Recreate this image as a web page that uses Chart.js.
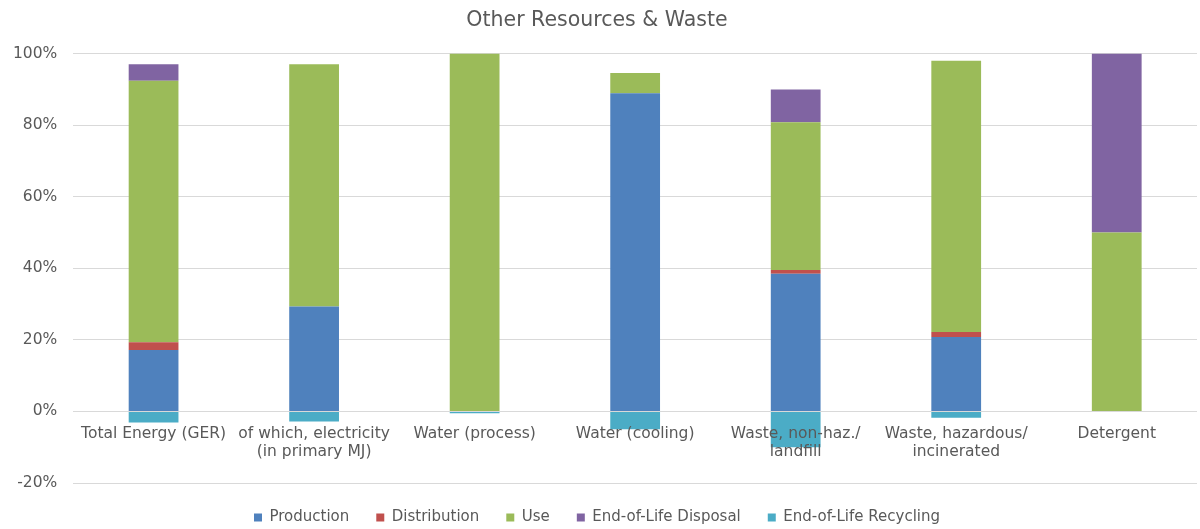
<!DOCTYPE html>
<html>
<head>
<meta charset="utf-8">
<script src="https://cdn.jsdelivr.net/npm/chart.js@4/dist/chart.umd.min.js"></script>
<style>
  html, body { margin: 0; padding: 0; background: #fff; }
  #wrap { width: 1200px; height: 529px; }
</style>
</head>
<body>
<div id="wrap"><canvas id="chart"></canvas></div>
<script>
  const categories = [
    'Total Energy (GER)',
    ['of which, electricity', '(in primary MJ)'],
    'Water (process)',
    'Water (cooling)',
    ['Waste, non-haz./', 'landfill'],
    ['Waste, hazardous/', 'incinerated'],
    'Detergent'
  ];
  const production   = [17.2, 29.3, 0, 88.9, 38.5, 20.8, 0];
  const distribution = [2.1, 0, 0, 0, 1.0, 1.4, 0];
  const use          = [73.1, 67.7, 100, 5.7, 41.3, 75.8, 50];
  const disposal     = [4.6, 0, 0, 0, 9.2, 0, 50];
  const recycling    = [-3.1, -2.8, -0.5, -5.0, -10.0, -1.8, 0];

  const grey = '#595959';
  const font = 'Verdana, "DejaVu Sans", sans-serif';

  function ds(label, data, color) {
    return {
      label: label,
      data: data,
      backgroundColor: color,
      borderWidth: 0,
      categoryPercentage: 1,
      barPercentage: 0.31
    };
  }

  new Chart(document.getElementById('chart'), {
    type: 'bar',
    data: {
      labels: categories,
      datasets: [
        ds('Production', production, '#4F81BD'),
        ds('Distribution', distribution, '#C0504D'),
        ds('Use', use, '#9BBB59'),
        ds('End-of-Life Disposal', disposal, '#8064A2'),
        ds('End-of-Life Recycling', recycling, '#4BACC6')
      ]
    },
    options: {
      responsive: true,
      maintainAspectRatio: false,
      animation: false,
      layout: { padding: { left: -3, right: 3, top: 0, bottom: -6 } },
      plugins: {
        title: {
          display: true,
          text: 'Other Resources & Waste',
          color: grey,
          font: { family: font, size: 20.5, weight: 'normal' },
          padding: { top: 8, bottom: 21 }
        },
        legend: {
          position: 'bottom',
          labels: {
            color: grey,
            font: { family: font, size: 15 },
            boxWidth: 8,
            boxHeight: 8,
            padding: 27
          }
        },
        tooltip: { enabled: false }
      },
      scales: {
        x: {
          stacked: true,
          position: { y: 0 },
          grid: { display: false },
          border: { display: false },
          ticks: {
            z: 1,
            color: grey,
            font: { family: font, size: 15.5 },
            maxRotation: 0,
            autoSkip: false,
            padding: 5
          }
        },
        y: {
          stacked: true,
          min: -20,
          max: 100,
          grid: { color: '#d9d9d9', drawTicks: false },
          border: { display: false },
          ticks: {
            stepSize: 20,
            color: grey,
            padding: 16,
            font: { family: font, size: 15.5 },
            callback: v => v + '%'
          }
        }
      }
    }
  });
</script>
</body>
</html>
